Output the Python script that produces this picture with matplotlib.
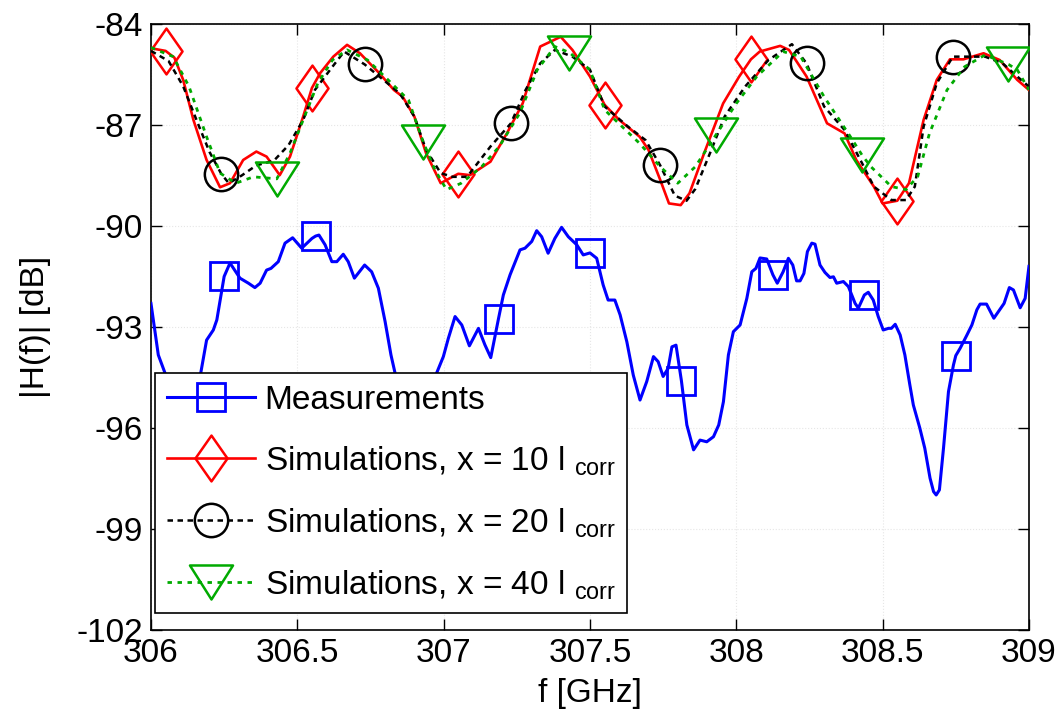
import numpy as np
import matplotlib
matplotlib.use("Agg")
import matplotlib.pyplot as plt
from matplotlib.lines import Line2D
from matplotlib.path import Path

# ---------------- data ----------------
meas_f = [306.000, 306.025, 306.048, 306.08, 306.12, 306.15, 306.17, 306.19, 306.213, 306.225,
          306.25, 306.27, 306.304, 306.333, 306.355, 306.373, 306.395, 306.41, 306.435, 306.458,
          306.484, 306.515, 306.55, 306.5625, 306.574, 306.595, 306.618, 306.635, 306.657, 306.674,
          306.695, 306.73, 306.754, 306.777, 306.80, 306.82, 306.834, 306.855, 306.875, 306.92,
          306.95, 306.976, 306.999, 307.016, 307.039, 307.062, 307.088, 307.119, 307.141, 307.161,
          307.1875, 307.204, 307.227, 307.261, 307.278, 307.301, 307.318, 307.335, 307.357, 307.38,
          307.403, 307.426, 307.455, 307.477, 307.50, 307.523, 307.545, 307.562, 307.585, 307.603,
          307.626, 307.648, 307.671, 307.694, 307.717, 307.733, 307.75, 307.767, 307.78, 307.794,
          307.8125, 307.831, 307.854, 307.876, 307.899, 307.922, 307.94, 307.956, 307.973, 307.99,
          308.013, 308.036, 308.053, 308.067, 308.081, 308.104, 308.125, 308.14, 308.16, 308.178,
          308.193, 308.206, 308.218, 308.231, 308.243, 308.258, 308.269, 308.286, 308.303, 308.32,
          308.332, 308.343, 308.366, 308.383, 308.406, 308.417, 308.4375, 308.451, 308.468, 308.485,
          308.502, 308.52, 308.53, 308.543, 308.56, 308.576, 308.593, 308.605, 308.627, 308.644,
          308.662, 308.674, 308.683, 308.694, 308.708, 308.725, 308.742, 308.75, 308.765, 308.788,
          308.805, 308.822, 308.833, 308.855, 308.88, 308.90, 308.915, 308.933, 308.947, 308.97,
          308.987, 309.0]
meas_db = [-92.3, -93.83, -94.37, -95.3, -95.6, -95.0, -94.37, -93.39, -93.09, -92.79,
           -91.5, -91.1, -91.55, -91.70, -91.83, -91.70, -91.31, -91.26, -91.06, -90.51,
           -90.35, -90.66, -90.37, -90.3, -90.27, -90.56, -91.06, -91.06, -90.84, -91.06,
           -91.55, -91.16, -91.36, -91.85, -92.84, -93.83, -94.37, -95.2, -95.5, -95.6,
           -95.1, -94.37, -93.88, -93.34, -92.69, -92.94, -93.56, -93.04, -93.53, -93.91,
           -92.75, -92.05, -91.45, -90.71, -90.66, -90.46, -90.14, -90.32, -90.81, -90.37,
           -90.04, -90.32, -90.56, -90.86, -90.8, -90.96, -91.75, -92.2, -92.2, -92.64,
           -93.44, -94.43, -95.17, -94.62, -93.88, -94.03, -94.47, -94.23, -93.59, -93.54,
           -94.6, -95.91, -96.65, -96.36, -96.41, -96.26, -95.91, -95.22, -93.83, -93.14,
           -92.94, -92.15, -91.36, -91.26, -90.95, -90.98, -91.45, -91.70, -91.36, -90.96,
           -91.16, -91.63, -91.63, -91.41, -90.76, -90.51, -90.54, -91.16, -91.38, -91.53,
           -91.51, -91.70, -91.65, -91.80, -92.30, -92.44, -92.05, -91.97, -92.2, -92.69,
           -93.09, -93.04, -93.04, -92.92, -93.24, -93.83, -94.72, -95.32, -96.0, -96.6,
           -97.49, -97.89, -97.99, -97.84, -96.6, -94.92, -94.13, -93.85, -93.63, -93.24,
           -92.94, -92.49, -92.32, -92.32, -92.74, -92.49, -92.30, -91.83, -91.90, -92.43,
           -92.15, -91.2]
meas_mark_f = [306.25, 306.5625, 306.875, 307.1875, 307.5, 307.8125, 308.125, 308.4375, 308.75]

sim10_f = [306.00, 306.05, 306.08, 306.11, 306.145, 306.19, 306.236, 306.27, 306.315, 306.36,
           306.395, 306.44, 306.475, 306.52, 306.55, 306.578, 306.623, 306.67, 306.714, 306.78,
           306.83, 306.86, 306.90, 306.94, 306.99, 307.03, 307.05, 307.09, 307.16, 307.216,
           307.27, 307.33, 307.40, 307.44, 307.50, 307.55, 307.60, 307.67, 307.70, 307.74,
           307.77, 307.81, 307.84, 307.89, 307.955, 308.01, 308.05, 308.08, 308.15, 308.18,
           308.24, 308.31, 308.37, 308.41, 308.47, 308.50, 308.55, 308.59, 308.64, 308.685,
           308.73, 308.776, 308.845, 308.90, 308.96, 309.00]
sim10_db = [-84.72, -84.80, -85.0, -85.66, -86.85, -88.04, -88.85, -88.73, -88.04, -87.79,
            -87.94, -88.49, -87.94, -86.75, -85.9, -85.46, -84.97, -84.62, -84.87, -85.46,
            -85.96, -86.16, -86.75, -87.84, -88.73, -88.54, -88.45, -88.49, -88.09, -87.25,
            -86.36, -84.67, -84.38, -84.77, -85.56, -86.4, -86.85, -87.35, -87.74, -88.63,
            -89.33, -89.38, -89.03, -87.84, -86.36, -85.56, -85.05, -84.82, -84.65, -84.77,
            -85.56, -86.95, -87.25, -88.04, -88.83, -89.33, -89.25, -88.73, -86.85, -85.66,
            -85.05, -85.05, -84.87, -85.07, -85.66, -85.96]
sim10_mark_f = [306.05, 306.55, 307.05, 307.55, 308.05, 308.55]

sim20_f = [306.00, 306.06, 306.11, 306.16, 306.20, 306.24, 306.266, 306.31, 306.36, 306.42,
           306.47, 306.52, 306.56, 306.62, 306.66, 306.73, 306.78, 306.85, 306.90, 306.94,
           306.99, 307.03, 307.08, 307.16, 307.23, 307.28, 307.33, 307.38, 307.44, 307.50,
           307.55, 307.63, 307.69, 307.74, 307.79, 307.83, 307.86, 307.91, 307.96, 308.03,
           308.11, 308.19, 308.24, 308.30, 308.37, 308.43, 308.47, 308.53, 308.58, 308.61,
           308.64, 308.685, 308.74, 308.78, 308.85, 308.91, 308.96, 309.00]
sim20_db = [-84.8, -85.1, -85.85, -86.95, -87.8, -88.45, -88.73, -88.5, -88.2, -88.06,
            -87.6, -86.85, -85.96, -85.27, -84.82, -85.2, -85.56, -86.06, -86.75, -87.74,
            -88.43, -88.54, -88.54, -87.64, -86.95, -85.96, -85.17, -84.77, -84.97, -85.36,
            -86.45, -87.05, -87.45, -88.2, -89.1, -89.25, -88.9, -87.84, -86.75, -85.86,
            -85.07, -84.6, -85.17, -86.45, -87.15, -88.14, -88.83, -89.23, -89.23, -88.83,
            -87.05, -85.76, -84.97, -84.97, -84.97, -85.17, -85.56, -85.86]
sim20_mark_f = [306.24, 306.73, 307.23, 307.74, 308.24, 308.74]

sim40_f = [306.00, 306.076, 306.13, 306.19, 306.236, 306.29, 306.35, 306.43, 306.475, 306.52,
           306.57, 306.62, 306.67, 306.74, 306.81, 306.88, 306.93, 306.97, 307.01, 307.06,
           307.13, 307.19, 307.26, 307.32, 307.38, 307.43, 307.50, 307.55, 307.67, 307.74,
           307.80, 307.86, 307.93, 308.00, 308.07, 308.16, 308.22, 308.30, 308.39, 308.43,
           308.46, 308.53, 308.58, 308.62, 308.66, 308.72, 308.78, 308.85, 308.93, 308.96,
           309.00]
sim40_db = [-84.7, -84.97, -85.86, -87.35, -88.43, -88.73, -88.54, -88.6, -87.84, -86.85,
            -85.76, -85.07, -84.77, -85.07, -85.66, -86.26, -87.5, -88.33, -88.92, -88.73,
            -88.24, -87.64, -86.65, -85.36, -84.67, -84.85, -85.36, -86.55, -87.55, -88.24,
            -88.73, -88.24, -87.3, -86.36, -85.56, -84.82, -84.97, -86.16, -87.35, -87.9,
            -88.24, -88.83, -88.92, -88.53, -87.25, -85.96, -85.27, -84.92, -85.2, -85.36,
            -85.96]
sim40_mark_f = [306.43, 306.93, 307.43, 307.93, 308.43, 308.93]

labels = ["Measurements",
          r"Simulations, x = 10 l $_{\mathregular{corr}}$",
          r"Simulations, x = 20 l $_{\mathregular{corr}}$",
          r"Simulations, x = 40 l $_{\mathregular{corr}}$"]
x_ticks = [306, 306.5, 307, 307.5, 308, 308.5, 309]
x_ticklabels = ["306", "306.5", "307", "307.5", "308", "308.5", "309"]
y_ticks = [-102, -99, -96, -93, -90, -87, -84]
y_ticklabels = ["-102", "-99", "-96", "-93", "-90", "-87", "-84"]

# ---------------- style ----------------
plt.rcParams['font.family'] = ['Liberation Sans', 'DejaVu Sans']
plt.rcParams['mathtext.fontset'] = 'custom'
plt.rcParams['mathtext.rm'] = 'Liberation Sans'

diamond = Path([(0, 1), (0.7, 0), (0, -1), (-0.7, 0), (0, 1)],
               [Path.MOVETO, Path.LINETO, Path.LINETO, Path.LINETO, Path.CLOSEPOLY])
tri_down = Path([(-1, 0.79), (1, 0.79), (0, -0.79), (-1, 0.79)],
                [Path.MOVETO, Path.LINETO, Path.LINETO, Path.CLOSEPOLY])

BLUE = '#0000ff'
RED = '#ff0000'
BLACK = '#000000'
GREEN = '#00aa00'

def mask(xs, marks):
    xs = np.asarray(xs)
    return np.any(np.isclose(xs[:, None], np.asarray(marks)[None, :], atol=1e-6), axis=1)

fig = plt.figure(figsize=(10.61, 7.18), dpi=100)
ax = fig.add_axes([0.1423, 0.1226, 0.8275, 0.844])

styles = [
    dict(color=BLUE, lw=2.2, ls='-', marker='s', ms=20, mew=2.0, mfc='none'),
    dict(color=RED, lw=1.9, ls='-', marker=diamond, ms=33, mew=1.8, mfc='none'),
    dict(color=BLACK, lw=1.8, ls=(0, (2.2, 1.8)), marker='o', ms=24, mew=1.8, mfc='none'),
    dict(color=GREEN, lw=2.0, ls=(0, (1.6, 2.0)), marker=tri_down, ms=31, mew=1.8, mfc='none'),
]
series = [(meas_f, meas_db, meas_mark_f), (sim10_f, sim10_db, sim10_mark_f),
          (sim20_f, sim20_db, sim20_mark_f), (sim40_f, sim40_db, sim40_mark_f)]

for (xs, ys, mk), st in zip(series, styles):
    ax.plot(xs, ys, markevery=list(np.where(mask(xs, mk))[0]), zorder=3, **st)

ax.set_xlim(306, 309)
ax.set_ylim(-102, -84)
ax.set_xticks(x_ticks)
ax.set_xticklabels(x_ticklabels)
ax.set_yticks(y_ticks)
ax.set_yticklabels(y_ticklabels)
ax.tick_params(direction='in', length=8, width=1.0, top=True, right=True,
               labelsize=24, pad=6)
ax.grid(True, color='#e6e6e6', ls=':', lw=0.8)
ax.set_axisbelow(True)
for s in ax.spines.values():
    s.set_linewidth(1.2)
ax.set_xlabel("f [GHz]", fontsize=24, labelpad=6)
ax.set_ylabel("|H(f)| [dB]", fontsize=24, labelpad=18)

handles = [Line2D([], [], **st) for st in styles]
leg = ax.legend(handles, labels, loc='upper left', bbox_to_anchor=(0.0046, 0.424),
                borderaxespad=0, fontsize=24, handlelength=2.64, handletextpad=0.3,
                labelspacing=0.85, borderpad=0.35, fancybox=False, framealpha=1,
                edgecolor='black', numpoints=1)
leg.get_frame().set_linewidth(1.2)
leg.set_zorder(5)

fig.savefig("out.png", dpi=100)
